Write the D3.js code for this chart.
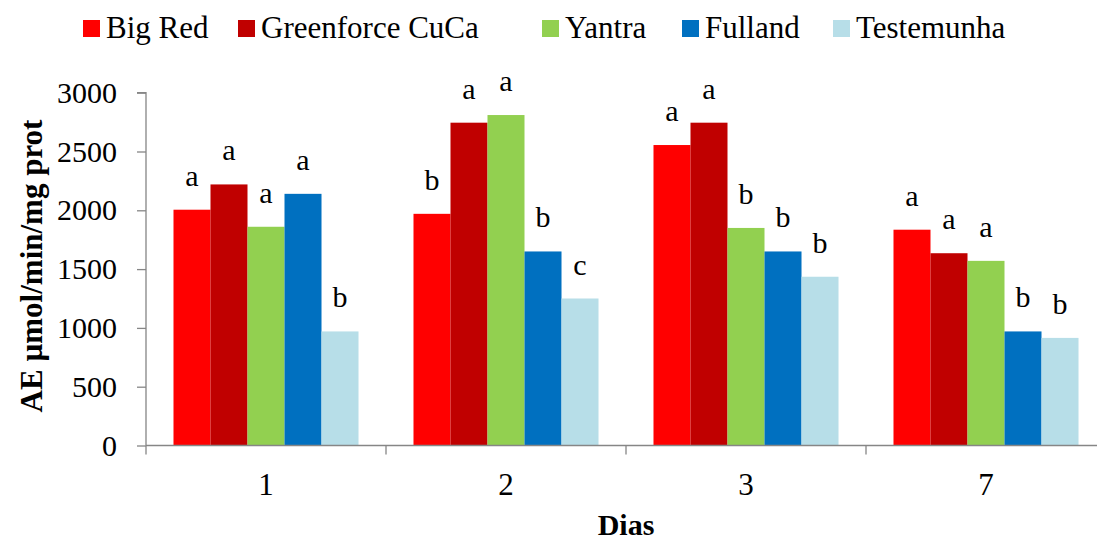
<!DOCTYPE html>
<html>
<head>
<meta charset="utf-8">
<script src="https://cdn.jsdelivr.net/npm/d3@7"></script>
<style>
  body { margin: 0; background: #fff; }
  svg { display: block; font-family: "Liberation Serif", "Times New Roman", serif; }
</style>
</head>
<body>
<svg id="chart"></svg>
<script>
// data
const days = ['1', '2', '3', '7'];
const products = ['Big Red', 'Greenforce CuCa', 'Yantra', 'Fulland', 'Testemunha'];
const colors = ['#FF0000', '#C00000', '#92D050', '#0070C0', '#B7DEE8'];

const bigRed     = [2005, 1970, 2555, 1835];
const greenforce = [2220, 2745, 2745, 1635];
const yantra     = [1860, 2810, 1850, 1570];
const fulland    = [2140, 1650, 1650, 970];
const testemunha = [970, 1250, 1435, 915];

const lettersBigRed     = ['a', 'b', 'a', 'a'];
const lettersGreenforce = ['a', 'a', 'a', 'a'];
const lettersYantra     = ['a', 'a', 'b', 'a'];
const lettersFulland    = ['a', 'b', 'b', 'b'];
const lettersTestemunha = ['b', 'c', 'b', 'b'];

const yTicks = [0, 500, 1000, 1500, 2000, 2500, 3000];

const series = [bigRed, greenforce, yantra, fulland, testemunha];
const letters = [lettersBigRed, lettersGreenforce, lettersYantra, lettersFulland, lettersTestemunha];

// layout
const width = 1097;
const height = 543;
const plotLeft = 146, plotBottom = 445.5, plotTop = 92.7;
const axisColor = '#868686';

const svg = d3.select('#chart').attr('width', width).attr('height', height);

const x = d3.scaleBand().domain(days).range([plotLeft, plotLeft + 960]).paddingInner(0).paddingOuter(0);
const xInner = d3.scaleBand().domain(products).range([0, x.bandwidth()]).paddingInner(0).paddingOuter(0.743);
const y = d3.scaleLinear().domain([0, 3000]).range([plotBottom, plotTop]);

// bars
const rows = [];
days.forEach((d, i) => {
    products.forEach((p, j) => {
        rows.push({ day: d, product: p, value: series[j][i], letter: letters[j][i], color: colors[j] });
    });
});

svg.append('g')
    .selectAll('rect')
    .data(rows)
    .enter()
    .append('rect')
    .attr('x', d => x(d.day) + xInner(d.product))
    .attr('y', d => y(d.value))
    .attr('width', xInner.bandwidth())
    .attr('height', d => plotBottom - y(d.value))
    .attr('fill', d => d.color);

svg.append('g')
    .selectAll('text')
    .data(rows)
    .enter()
    .append('text')
    .attr('x', d => x(d.day) + xInner(d.product) + xInner.bandwidth() / 2)
    .attr('y', d => y(d.value) - 24)
    .attr('text-anchor', 'middle')
    .attr('font-size', 30)
    .attr('fill', '#000')
    .text(d => d.letter);

// y axis
const yAxis = svg.append('g')
    .attr('transform', `translate(${plotLeft},0)`)
    .call(d3.axisLeft(y).tickValues(yTicks).tickSize(9).tickPadding(20).tickFormat(d3.format('d')))
    .attr('font-family', null)
    .attr('font-size', 30);
yAxis.selectAll('path, line').attr('stroke', axisColor).attr('stroke-width', 1.3);
yAxis.select('.domain').attr('d', `M-9,${plotTop}H0V${plotBottom}`);
yAxis.selectAll('text').attr('fill', '#000');

// x axis
const xAxis = svg.append('g')
    .attr('transform', `translate(0,${plotBottom})`)
    .call(d3.axisBottom(x).tickSize(0).tickPadding(27))
    .attr('font-family', null)
    .attr('font-size', 31);
xAxis.select('.domain').attr('stroke', axisColor).attr('stroke-width', 1.3).attr('d', `M${plotLeft},0H${plotLeft + 960}`);
xAxis.selectAll('text').attr('fill', '#000');

const bounds = days.map(d => x(d)).concat([x(days[days.length - 1]) + x.bandwidth()]);
xAxis.selectAll('.bound')
    .data(bounds)
    .enter()
    .append('line')
    .attr('class', 'bound')
    .attr('x1', d => d).attr('x2', d => d)
    .attr('y1', 0).attr('y2', 9)
    .attr('stroke', axisColor).attr('stroke-width', 1.3);

// axis titles
svg.append('text')
    .attr('transform', `translate(42,266) rotate(-90)`)
    .attr('text-anchor', 'middle')
    .attr('font-weight', 'bold')
    .attr('font-size', 31)
    .text('AE µmol/min/mg prot');

svg.append('text')
    .attr('x', 626)
    .attr('y', 535)
    .attr('text-anchor', 'middle')
    .attr('font-weight', 'bold')
    .attr('font-size', 30)
    .text('Dias');

// legend
const legendX = [83, 238, 542, 682, 833];
const legend = svg.append('g');
legend.selectAll('rect')
    .data(products)
    .enter()
    .append('rect')
    .attr('x', (d, i) => legendX[i])
    .attr('y', 20)
    .attr('width', 17)
    .attr('height', 17)
    .attr('fill', (d, i) => colors[i]);

legend.selectAll('text')
    .data(products)
    .enter()
    .append('text')
    .attr('x', (d, i) => legendX[i] + 23)
    .attr('y', 38)
    .attr('font-size', 31)
    .text(d => d);
</script>
</body>
</html>
